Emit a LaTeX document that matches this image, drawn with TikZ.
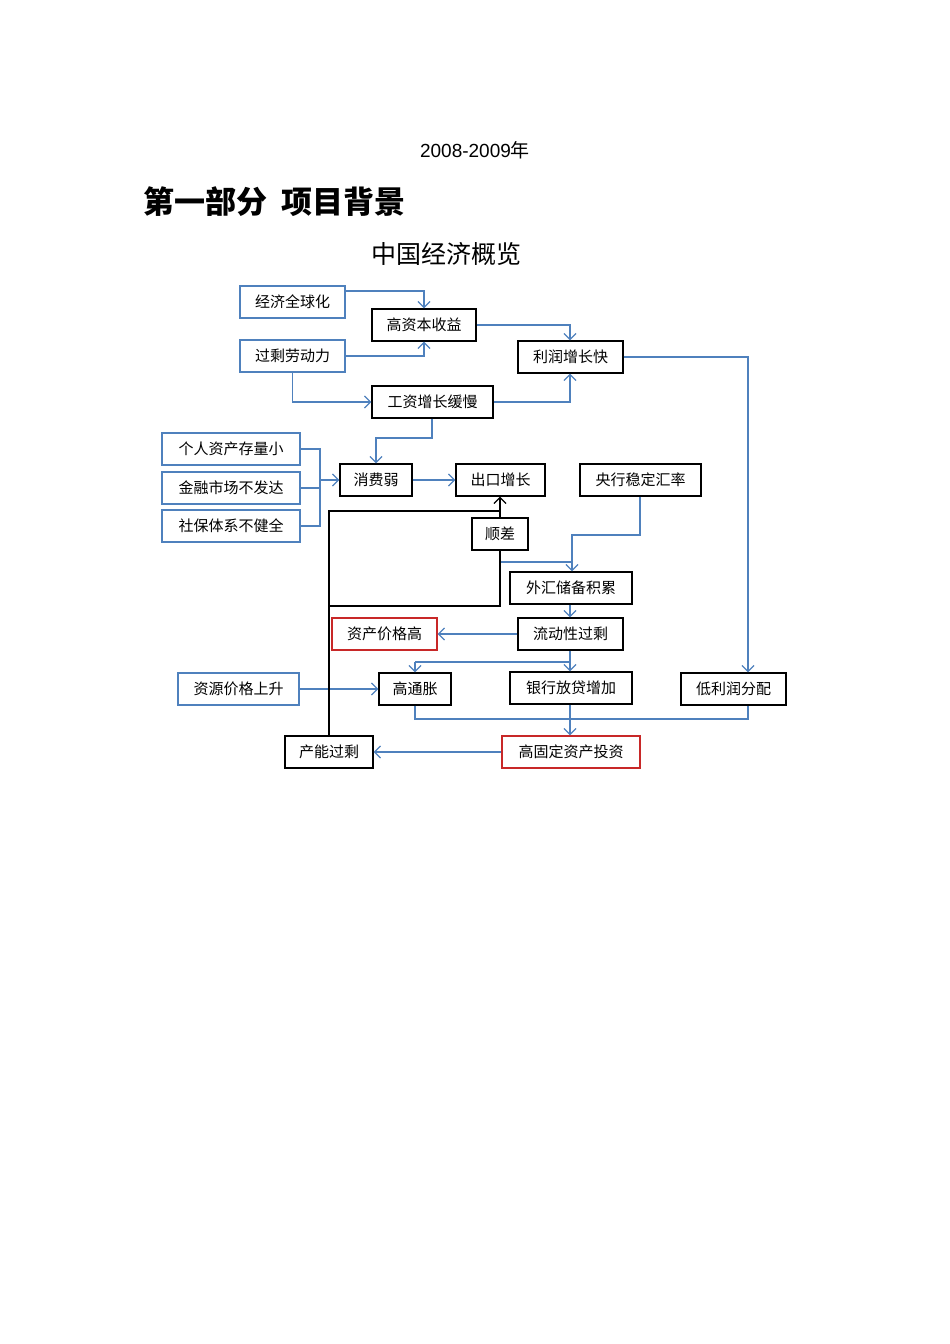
\documentclass[tikz,border=0pt]{standalone}
\usepackage{fontspec}
\setmainfont{Liberation Sans}
\newfontfamily\cjk{Noto Sans CJK SC}
\usetikzlibrary{arrows.meta}
\definecolor{bl}{RGB}{79,129,189}
\definecolor{rd}{RGB}{200,40,40}
\begin{document}
\begin{tikzpicture}[x=1pt,y=-1pt,
  bx/.style={draw,line width=1.2pt,inner sep=0pt,font=\cjk\fontsize{15}{15}\selectfont},
  bbox/.style={bx,draw=black},
  blbox/.style={bx,draw=bl},
  rdbox/.style={bx,draw=rd},
  cn/.style={draw=bl,line width=1.3pt},
  ar/.style={cn,-{Straight Barb[length=6pt,width=12pt]}},
  kar/.style={draw=black,line width=1.3pt},
]
\useasboundingbox (0,0) rectangle (950,1344);
\node (t1) at (475,150) {\fontsize{19}{19}\selectfont 2008-2009\cjk 年};
\node[anchor=west] (t2) at (140,202) {\cjk\bfseries\fontsize{31}{31}\selectfont 第一部分\ \ 项目背景};
\node (t3) at (446,254) {\cjk\fontsize{25}{25}\selectfont 中国经济概览};
\def\B#1#2#3#4#5#6#7{\node[#2,minimum width=#5-#3,minimum height=#6-#4] (#1) at ({(#3+#5)/2},{(#4+#6)/2}) {#7};}
\B{a}{blbox}{240}{286}{345}{318}{经济全球化}
\B{b}{bbox}{372}{309}{476}{341}{高资本收益}
\B{c}{blbox}{240}{340}{345}{372}{过剩劳动力}
\B{d}{bbox}{518}{341}{623}{373}{利润增长快}
\B{e}{bbox}{372}{386}{493}{418}{工资增长缓慢}
\B{f1}{blbox}{162}{433}{300}{465}{个人资产存量小}
\B{f2}{blbox}{162}{472}{300}{504}{金融市场不发达}
\B{f3}{blbox}{162}{510}{300}{542}{社保体系不健全}
\B{g}{bbox}{340}{464}{412}{496}{消费弱}
\B{h}{bbox}{456}{464}{545}{496}{出口增长}
\B{i}{bbox}{580}{464}{701}{496}{央行稳定汇率}
\B{j}{bbox}{472}{518}{528}{550}{顺差}
\B{k}{bbox}{510}{572}{632}{604}{外汇储备积累}
\B{l}{rdbox}{332}{618}{437}{650}{资产价格高}
\B{m}{bbox}{518}{618}{623}{650}{流动性过剩}
\B{n}{blbox}{178}{673}{299}{705}{资源价格上升}
\B{o}{bbox}{379}{673}{451}{705}{高通胀}
\B{p}{bbox}{510}{672}{632}{704}{银行放贷增加}
\B{q}{bbox}{681}{673}{786}{705}{低利润分配}
\B{r}{bbox}{285}{736}{373}{768}{产能过剩}
\B{s}{rdbox}{502}{736}{640}{768}{高固定资产投资}
% blue connectors
\draw[ar] (a.east|-0,291) -| (424,0|-b.north);
\draw[ar] (c.east) -| (424,0|-b.south);
\draw[ar] (b.east) -| (570,0|-d.north);
\draw[ar] (c.south) |- (e.west);
\draw[ar] (e.east) -| (570,0|-d.south);
\draw[ar] (d.east) -| (748,0|-q.north);
\draw[ar] (432,0|-e.south) -- (432,438) -| (376,0|-g.north);
\draw[cn] (f1.east) -| (320,0|-f3.east) -- (f3.east);
\draw[cn] (f2.east) -- (320,0|-f2.east);
\draw[ar] (320,0|-g.west) -- (g.west);
\draw[ar] (g.east) -- (h.west);
\draw[ar] (640,0|-i.south) -- (640,535) -| (572,0|-k.north);
\draw[cn] (j.south) -- (500,562) -- (572,562);
\draw[ar] (k.south-|570,0) -- (570,0|-m.north);
\draw[ar] (m.west) -- (l.east);
\draw[cn] (m.south-|570,0) -- (570,662);
\draw[ar] (415,662) -- (o.north-|415,0);
\draw[cn] (415,662) -- (570,662);
\draw[ar] (570,662) -- (570,0|-p.north);
\draw[ar] (n.east) -- (o.west);
\draw[cn] (o.south-|415,0) |- (748,719) -- (748,0|-q.south);
\draw[ar] (570,0|-p.south) -- (570,0|-s.north);
\draw[ar] (s.west) -- (r.east);
% black loop
\draw[kar,-{Straight Barb[length=6pt,width=12pt]}] (j.north) -- (500,0|-h.south);
\draw[kar] (329,0|-r.north) -- (329,511) -- (500,511);
\draw[kar] (j.south) -- (500,606) -- (329,606);
\end{tikzpicture}
\end{document}
